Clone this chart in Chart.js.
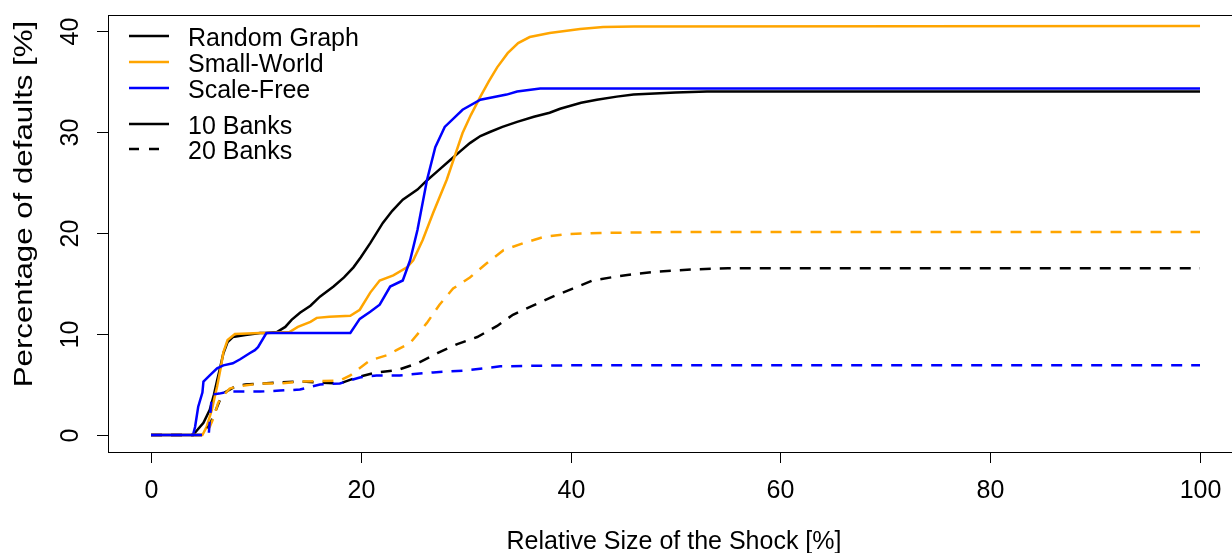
<!DOCTYPE html>
<html>
<head>
<meta charset="utf-8">
<script src="https://cdn.jsdelivr.net/npm/chart.js@4/dist/chart.umd.min.js"></script>
<style>
  html, body { margin: 0; padding: 0; background: #fff; }
  #wrap { width: 1232px; height: 553px; }
</style>
</head>
<body>
<div id="wrap"><canvas id="c" width="1232" height="553"></canvas></div>
<script>
// ---- tick labels & texts ----
const xTicks = [0, 20, 40, 60, 80, 100];
const yTicks = [0, 10, 20, 30, 40];
const xTitle = "Relative Size of the Shock [%]";
const yTitle = "Percentage of defaults [%]";
const networkNames = ["Random Graph", "Small-World", "Scale-Free"];
const sizeNames = ["10 Banks", "20 Banks"];

// ---- Random Graph, 10 banks (solid black) ----
const rg10X = [0, 4, 5, 5.6, 6, 6.3, 6.6, 6.9, 7.3, 7.8, 9, 10.4, 11, 12, 12.8, 13.4, 14.2, 15.2, 16.1, 17.4, 18.4, 19.3, 20, 20.9, 22.1, 23, 24, 25.4, 26.3, 27.4, 28.5, 29.5, 30.4, 31.4, 32.3, 33.5, 34.9, 36.5, 38, 39, 40, 41, 42.5, 44.4, 46, 48, 50, 53, 100];
const rg10Y = [0, 0, 1.2, 2.5, 4.0, 5.4, 6.7, 8.1, 9.2, 9.7, 9.9, 10.1, 10.1, 10.2, 10.7, 11.4, 12.1, 12.8, 13.7, 14.7, 15.6, 16.6, 17.6, 19.0, 21.0, 22.2, 23.3, 24.3, 25.2, 26.2, 27.2, 28.1, 28.9, 29.6, 30.0, 30.5, 31.0, 31.5, 31.9, 32.3, 32.6, 32.9, 33.2, 33.5, 33.7, 33.8, 33.9, 34.0, 34.0];

// ---- Small-World, 10 banks (solid orange) ----
const sw10X = [0, 4.9, 5.3, 5.8, 6.3, 6.6, 6.9, 7.3, 8, 10.4, 11, 13.2, 14, 15.2, 15.8, 17, 19, 19.9, 20.9, 21.8, 23.1, 24.4, 25, 25.9, 26.9, 28.2, 29.7, 30.5, 31.4, 32.2, 33, 34, 35, 36.1, 38, 40.9, 43.1, 46, 100];
const sw10Y = [0, 0, 0.8, 2.5, 4.8, 6.4, 8.2, 9.4, 10.0, 10.1, 10.1, 10.2, 10.7, 11.2, 11.6, 11.7, 11.8, 12.4, 14.1, 15.3, 15.8, 16.6, 17.3, 19.3, 22.0, 25.3, 29.9, 31.7, 33.5, 35.0, 36.4, 37.8, 38.8, 39.4, 39.8, 40.2, 40.4, 40.45, 40.5];

// ---- Scale-Free, 10 banks (solid blue) ----
const sf10X = [0, 4, 4.2, 4.5, 4.9, 5.0, 5.6, 6.3, 6.9, 7.8, 8.5, 9.4, 9.9, 10.2, 11, 19, 19.9, 20.9, 21.8, 22.8, 24, 24.7, 25.4, 26.3, 27.1, 28, 29.7, 31.4, 33.9, 34.9, 37.1, 100];
const sf10Y = [0, 0, 0.8, 2.8, 4.2, 5.3, 5.9, 6.6, 6.9, 7.1, 7.5, 8.1, 8.4, 8.7, 10.1, 10.1, 11.5, 12.2, 12.9, 14.7, 15.3, 17.3, 20.3, 25.2, 28.5, 30.5, 32.2, 33.2, 33.7, 34.0, 34.3, 34.3];

// ---- Random Graph, 20 banks (dashed black) ----
const rg20X = [0, 5, 5.6, 6, 6.5, 7, 8, 9, 10.4, 14.2, 16.1, 18, 19.6, 21.5, 23.4, 25.4, 27.3, 29.2, 31.1, 33, 34.5, 36.4, 38.3, 40.2, 42.1, 44.4, 46.6, 48.5, 51.7, 55, 100];
const rg20Y = [0, 0, 1.0, 2.0, 3.3, 4.2, 4.8, 5.0, 5.1, 5.3, 5.2, 5.1, 5.7, 6.2, 6.4, 7.1, 8.1, 9.0, 9.7, 10.8, 11.9, 12.8, 13.7, 14.5, 15.3, 15.7, 16.0, 16.2, 16.4, 16.5, 16.5];

// ---- Small-World, 20 banks (dashed orange) ----
const sw20X = [0, 5, 5.6, 6, 6.4, 6.8, 7.5, 8.2, 10.4, 12.3, 14.2, 18, 19, 19.6, 20.9, 22.5, 23.4, 24.7, 26.3, 27.5, 28.8, 30.4, 32, 33.6, 35.5, 37.4, 39.7, 42.8, 50, 100];
const sw20Y = [0, 0, 0.8, 1.8, 3.2, 3.8, 4.6, 4.8, 5.1, 5.1, 5.3, 5.4, 5.9, 6.4, 7.4, 7.9, 8.4, 9.1, 11.1, 12.9, 14.5, 15.6, 17.0, 18.3, 19.0, 19.6, 19.9, 20.0, 20.1, 20.1];

// ---- Scale-Free, 20 banks (dashed blue) ----
const sf20X = [0, 5.5, 5.8, 6.5, 7.5, 10.4, 12.3, 14.2, 16.1, 18, 19.9, 21.5, 23.7, 26.9, 30.1, 33.3, 36, 39.7, 100];
const sf20Y = [0, 0, 4.0, 4.1, 4.3, 4.3, 4.4, 4.5, 5.0, 5.1, 5.7, 5.9, 5.9, 6.2, 6.4, 6.8, 6.85, 6.9, 6.9];

const BLACK = "#000000", ORANGE = "#FFA500", BLUE = "#0000FF";
const FONT = '"Liberation Sans", Arial, sans-serif';
const DASH = [11, 9];

function pts(xs, ys) { return xs.map((x, i) => ({ x: x, y: ys[i] })); }
function ds(label, xs, ys, color, dashed, order) {
  return {
    label: label, data: pts(xs, ys), borderColor: color, backgroundColor: color,
    borderWidth: 2.5, pointRadius: 0, tension: 0, fill: false,
    borderDash: dashed ? DASH : [], order: order, borderCapStyle: 'butt'
  };
}

const decor = {
  id: 'decor',
  afterDraw(chart) {
    const ctx = chart.ctx, a = chart.chartArea, xs = chart.scales.x, ys = chart.scales.y;
    ctx.save();
    ctx.strokeStyle = '#000'; ctx.lineWidth = 1;
    ctx.strokeRect(Math.round(a.left) + 0.5, Math.round(a.top) + 0.5, a.right - a.left + 5, Math.round(a.bottom - a.top));
    ctx.fillStyle = '#000';
    ctx.font = '25px ' + FONT;
    ctx.textAlign = 'center'; ctx.textBaseline = 'middle';
    xTicks.forEach(v => {
      const px = Math.round(xs.getPixelForValue(v)) + 0.5;
      ctx.beginPath(); ctx.moveTo(px, a.bottom); ctx.lineTo(px, a.bottom + 11); ctx.stroke();
      ctx.fillText(String(v), px, 491);
    });
    yTicks.forEach(v => {
      const py = Math.round(ys.getPixelForValue(v)) + 0.5;
      ctx.beginPath(); ctx.moveTo(a.left - 11, py); ctx.lineTo(a.left, py); ctx.stroke();
      ctx.save(); ctx.translate(71, py); ctx.rotate(-Math.PI / 2);
      ctx.fillText(String(v), 0, 0); ctx.restore();
    });
    ctx.fillText(xTitle, 674, 542);
    ctx.save(); ctx.translate(25, 204); ctx.rotate(-Math.PI / 2); ctx.scale(1.25, 1);
    ctx.fillText(yTitle, 0, 0); ctx.restore();

    // legend
    ctx.textAlign = 'left';
    const rows = [
      { t: networkNames[0], c: BLACK, d: false, y: 39 },
      { t: networkNames[1], c: ORANGE, d: false, y: 65 },
      { t: networkNames[2], c: BLUE, d: false, y: 91 },
      { t: sizeNames[0], c: BLACK, d: false, y: 127 },
      { t: sizeNames[1], c: BLACK, d: true, y: 152 }
    ];
    rows.forEach(r => {
      ctx.strokeStyle = r.c; ctx.lineWidth = 2.5;
      ctx.setLineDash(r.d ? [10, 10] : []);
      ctx.beginPath(); ctx.moveTo(129, r.y - 3); ctx.lineTo(169, r.y - 3); ctx.stroke();
      ctx.setLineDash([]);
      ctx.fillStyle = '#000';
      ctx.fillText(r.t, 188, r.y);
    });
    ctx.restore();
  }
};

new Chart(document.getElementById('c'), {
  type: 'line',
  data: {
    datasets: [
      ds("Random Graph, 10 Banks", rg10X, rg10Y, BLACK, false, 5),
      ds("Small-World, 10 Banks", sw10X, sw10Y, ORANGE, false, 4),
      ds("Scale-Free, 10 Banks", sf10X, sf10Y, BLUE, false, 3),
      ds("Random Graph, 20 Banks", rg20X, rg20Y, BLACK, true, 2),
      ds("Small-World, 20 Banks", sw20X, sw20Y, ORANGE, true, 1),
      ds("Scale-Free, 20 Banks", sf20X, sf20Y, BLUE, true, 0)
    ]
  },
  options: {
    responsive: false, animation: false, devicePixelRatio: 1,
    layout: { padding: { left: 108, top: 15, right: 0, bottom: 101 } },
    plugins: { legend: { display: false }, tooltip: { enabled: false } },
    scales: {
      x: { type: 'linear', display: false, min: -4.1, max: 103.05 },
      y: { type: 'linear', display: false, min: -1.68, max: 41.58 }
    }
  },
  plugins: [decor]
});
</script>
</body>
</html>
